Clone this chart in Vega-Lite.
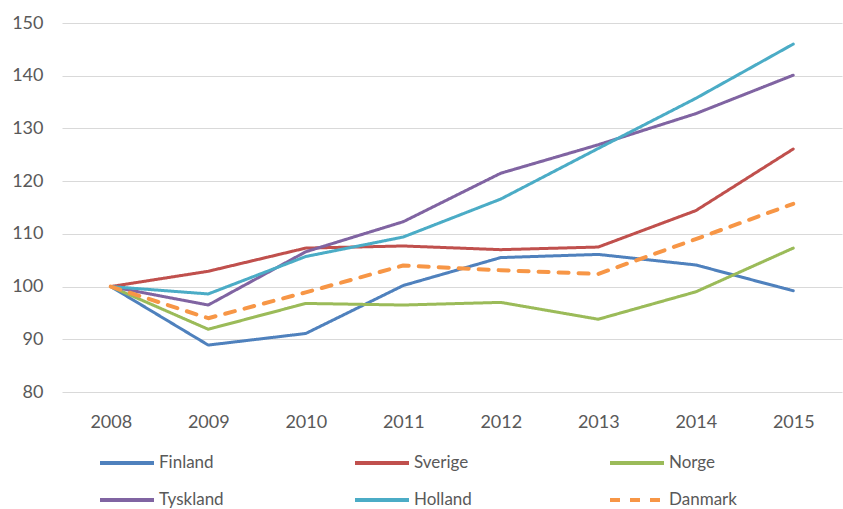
{
  "$schema": "https://vega.github.io/schema/vega-lite/v6.json",
  "autosize": "none",
  "width": 780,
  "height": 369,
  "padding": {"left": 62, "top": 23, "right": 1, "bottom": 117},
  "background": "white",
  "config": {
    "view": {"stroke": null},
    "font": "Lato"
  },
  "data": {
    "values": [
      {"year": "2008", "country": "Finland", "value": 100},
      {"year": "2009", "country": "Finland", "value": 88.9},
      {"year": "2010", "country": "Finland", "value": 91.1},
      {"year": "2011", "country": "Finland", "value": 100.2},
      {"year": "2012", "country": "Finland", "value": 105.5},
      {"year": "2013", "country": "Finland", "value": 106.1},
      {"year": "2014", "country": "Finland", "value": 104.1},
      {"year": "2015", "country": "Finland", "value": 99.2},
      {"year": "2008", "country": "Sverige", "value": 100},
      {"year": "2009", "country": "Sverige", "value": 102.9},
      {"year": "2010", "country": "Sverige", "value": 107.3},
      {"year": "2011", "country": "Sverige", "value": 107.7},
      {"year": "2012", "country": "Sverige", "value": 107.0},
      {"year": "2013", "country": "Sverige", "value": 107.5},
      {"year": "2014", "country": "Sverige", "value": 114.4},
      {"year": "2015", "country": "Sverige", "value": 126.1},
      {"year": "2008", "country": "Norge", "value": 100},
      {"year": "2009", "country": "Norge", "value": 91.9},
      {"year": "2010", "country": "Norge", "value": 96.8},
      {"year": "2011", "country": "Norge", "value": 96.5},
      {"year": "2012", "country": "Norge", "value": 97.0},
      {"year": "2013", "country": "Norge", "value": 93.8},
      {"year": "2014", "country": "Norge", "value": 99.0},
      {"year": "2015", "country": "Norge", "value": 107.3},
      {"year": "2008", "country": "Tyskland", "value": 100},
      {"year": "2009", "country": "Tyskland", "value": 96.5},
      {"year": "2010", "country": "Tyskland", "value": 106.6},
      {"year": "2011", "country": "Tyskland", "value": 112.3},
      {"year": "2012", "country": "Tyskland", "value": 121.5},
      {"year": "2013", "country": "Tyskland", "value": 126.9},
      {"year": "2014", "country": "Tyskland", "value": 132.8},
      {"year": "2015", "country": "Tyskland", "value": 140.1},
      {"year": "2008", "country": "Holland", "value": 100},
      {"year": "2009", "country": "Holland", "value": 98.6},
      {"year": "2010", "country": "Holland", "value": 105.7},
      {"year": "2011", "country": "Holland", "value": 109.4},
      {"year": "2012", "country": "Holland", "value": 116.6},
      {"year": "2013", "country": "Holland", "value": 126.2},
      {"year": "2014", "country": "Holland", "value": 135.7},
      {"year": "2015", "country": "Holland", "value": 146.0},
      {"year": "2008", "country": "Danmark", "value": 100},
      {"year": "2009", "country": "Danmark", "value": 94.0},
      {"year": "2010", "country": "Danmark", "value": 98.9},
      {"year": "2011", "country": "Danmark", "value": 104.0},
      {"year": "2012", "country": "Danmark", "value": 103.1},
      {"year": "2013", "country": "Danmark", "value": 102.4},
      {"year": "2014", "country": "Danmark", "value": 109.0},
      {"year": "2015", "country": "Danmark", "value": 115.7}
    ]
  },
  "mark": {"type": "line", "strokeCap": "round", "strokeJoin": "round"},
  "encoding": {
    "x": {
      "field": "year",
      "type": "ordinal",
      "scale": {"type": "point", "padding": 0.5},
      "axis": {
        "title": null,
        "labelAngle": 0,
        "labelFontSize": 18,
        "labelColor": "#595959",
        "labelPadding": 21,
        "domain": false,
        "ticks": false,
        "grid": false
      }
    },
    "y": {
      "field": "value",
      "type": "quantitative",
      "scale": {"domain": [80, 150], "nice": false, "zero": false},
      "axis": {
        "title": null,
        "values": [80, 90, 100, 110, 120, 130, 140, 150],
        "labelFontSize": 18,
        "labelColor": "#595959",
        "labelPadding": 19,
        "domain": false,
        "ticks": false,
        "grid": true,
        "gridColor": "#d9d9d9",
        "gridWidth": 1
      }
    },
    "color": {
      "field": "country",
      "type": "nominal",
      "title": null,
      "scale": {
        "domain": ["Finland", "Sverige", "Norge", "Tyskland", "Holland", "Danmark"],
        "range": ["#4F81BD", "#C0504D", "#9BBB59", "#8064A2", "#4BACC6", "#F79646"]
      },
      "legend": {
        "orient": "none",
        "direction": "horizontal",
        "legendX": 36,
        "legendY": 411,
        "columns": 3,
        "columnPadding": 120,
        "rowPadding": -25,
        "gridAlign": "all",
        "symbolType": "stroke",
        "symbolSize": 2916,
        "symbolStrokeWidth": 4,
        "labelFontSize": 17,
        "labelColor": "#595959",
        "labelOffset": 3
      }
    },
    "strokeDash": {
      "field": "country",
      "type": "nominal",
      "title": null,
      "scale": {
        "domain": ["Finland", "Sverige", "Norge", "Tyskland", "Holland", "Danmark"],
        "range": [[1, 0], [1, 0], [1, 0], [1, 0], [1, 0], [10, 10]]
      }
    },
    "strokeWidth": {
      "condition": {"test": "datum.country === 'Danmark'", "value": 4},
      "value": 3
    }
  }
}
